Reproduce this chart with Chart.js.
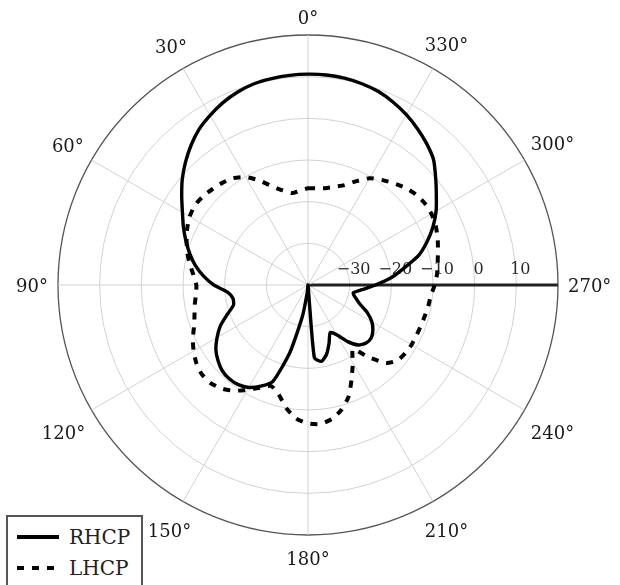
<!DOCTYPE html>
<html>
<head>
<meta charset="utf-8">
<script src="https://cdn.jsdelivr.net/npm/chart.js@4/dist/chart.umd.min.js"></script>
<style>
html,body{margin:0;padding:0;background:#fff;}
#wrap{position:relative;width:620px;height:585px;overflow:hidden;}
#legend{position:absolute;left:6px;top:515px;width:133px;height:90px;border:2px solid #555;background:#fff;
  font-family:"DejaVu Serif";font-size:20px;color:#222;}
.row{position:absolute;left:0;height:26px;display:flex;align-items:center;}
.sw{display:inline-block;width:42px;height:4px;margin:0 10px 0 9px;}
</style>
</head>
<body>
<div id="wrap">
  <canvas id="c"></canvas>
  <div id="legend">
    <div class="row" style="top:7px"><span class="sw" style="background:#000"></span>RHCP</div>
    <div class="row" style="top:38px"><span class="sw" style="background:repeating-linear-gradient(to right,#000 0 7px,transparent 7px 15px)"></span>LHCP</div>
  </div>
</div>
<script>
// ---------- data (angle in degrees, counter-clockwise from top; gain in dB) ----------
const ANGLES = [0,5,10,15,20,25,30,35,40,45,50,55,60,65,70,75,80,85,90,95,100,105,110,115,
  120,125,130,135,140,145,150,155,160,165,170,175,180,185,190,195,200,205,210,215,220,225,230,235,
  240,245,250,255,260,265,270,275,280,285,290,295,300,305,310,315,320,325,330,335,340,345,350,355];

const RHCP = [10.6,10.5,10.3,10.0,9.3,8.3,7.0,5.6,3.7,1.6,-0.6,-3.0,-5.2,-7.0,-8.8,-10.6,-12.5,-14.8,
  -17.4,-20.6,-21.7,-21.5,-19.4,-16.8,-14.8,-13.0,-11.8,-10.9,-10.6,-10.8,-11.6,-13.2,-15.4,-23.3,-32.5,-38.5,
  -40,-22.5,-21.4,-22.8,-25.2,-27.4,-26.2,-23.4,-21.2,-20.3,-20.2,-21.0,-22.3,-24.3,-26.8,-28.2,-29.0,-27.0,
  -23.8,-20.0,-16.6,-12.5,-9.6,-6.9,-4.5,-2.4,0.0,2.6,4.3,5.8,7.2,8.4,9.4,10.0,10.4,10.6];

const LHCP = [-16.8,-17.3,-17.6,-16.5,-14.8,-12.3,-10.1,-8.7,-8.0,-7.5,-7.0,-6.8,-7.2,-8.0,-9.0,-10.0,-11.2,-12.4,
  -13.2,-13.0,-12.4,-11.8,-10.9,-9.5,-8.3,-7.3,-6.7,-6.8,-7.6,-9.0,-11.0,-12.8,-14.2,-12.8,-10.0,-7.8,
  -6.8,-6.5,-7.3,-9.0,-11.5,-15.2,-18.5,-21.2,-17.4,-13.5,-11.9,-11.5,-11.3,-11.3,-11.2,-11.0,-10.7,-10.4,
  -9.6,-8.9,-8.4,-7.7,-6.9,-6.2,-5.8,-5.8,-6.2,-7.0,-8.1,-9.2,-10.4,-12.5,-14.5,-15.6,-16.4,-16.7];

const ANGLE_TICKS = [0,30,60,90,120,150,180,210,240,270,300,330];
const RING_VALUES = [-30,-20,-10,0,10];
const RING_LABELS = ["\u221230","\u221220","\u221210","0","10"];

// radar runs clockwise from the top, the plot runs counter-clockwise
const N = ANGLES.length;
const idx = i => (N - i) % N;
const labels = ANGLES.map((a,i) => ANGLES[idx(i)]);
const cw = arr => arr.map((v,i) => arr[idx(i)]);
const indexOfAngle = a => (N - a/5) % N;

// ---------- text drawn off the scale ----------
const axisText = {
  id: "axisText",
  beforeDatasetsDraw(chart){
    const s = chart.scales.r, ctx = chart.ctx;
    ctx.save();
    ctx.fillStyle = "#2a2a2a";
    ctx.textAlign = "center"; ctx.textBaseline = "middle";
    ctx.font = '16px "DejaVu Serif"';
    RING_VALUES.forEach((v,k) => {
      const d = s.getDistanceFromCenterForValue(v);
      ctx.fillText(RING_LABELS[k], s.xCenter + d + 4, s.yCenter - 15);
    });
    ctx.restore();
  },
  afterDraw(chart){
    const s = chart.scales.r, ctx = chart.ctx;
    ctx.save();
    ctx.fillStyle = "#1a1a1a";
    ctx.textAlign = "center"; ctx.textBaseline = "middle";
    ctx.font = '18px "DejaVu Serif"';
    ANGLE_TICKS.forEach(a => {
      const txt = a + "\u00b0";
      const w = ctx.measureText(txt).width, h = 14;
      const rad = a*Math.PI/180;
      const off = 10 + w/2*Math.abs(Math.sin(rad)) + h/2*Math.abs(Math.cos(rad));
      const p = s.getPointPosition(indexOfAngle(a), s.drawingArea + off);
      const dy = Math.cos(rad) < -0.1 ? 8 : (Math.abs(Math.cos(rad)) < 0.1 ? 2 : 1);
      ctx.fillText(txt, p.x, p.y + dy);
    });
    ctx.restore();
  }
};

new Chart(document.getElementById("c"), {
  type: "radar",
  data: {
    labels,
    datasets: [
      {label:"RHCP", data: cw(RHCP), borderColor:"#000", borderWidth:3.4, pointRadius:0,
       fill:false, tension:0.2, order:1},
      {label:"LHCP", data: cw(LHCP), borderColor:"#000", borderWidth:4, borderDash:[7,8],
       pointRadius:0, fill:false, tension:0.2, order:0}
    ]
  },
  options: {
    responsive: true, maintainAspectRatio: false, animation: false,
    layout: {padding: {left:58, right:61, top:35, bottom:49}},
    plugins: {legend:{display:false}, tooltip:{enabled:false}},
    scales: {
      r: {
        min: -40, max: 20,
        ticks: {display:false, stepSize:10},
        grid: {circular:true,
          color: c => c.tick && c.tick.value === 20 ? "#555" : "#d2d2d2",
          lineWidth: c => c.tick && c.tick.value === 20 ? 1.3 : 1},
        angleLines: {
          color: c => c.index === indexOfAngle(270) ? "#222" :
                      (ANGLE_TICKS.includes(labels[c.index]) ? "#d2d2d2" : "rgba(0,0,0,0)"),
          lineWidth: c => c.index === indexOfAngle(270) ? 3 : 1},
        pointLabels: {display:false}
      }
    }
  },
  plugins: [axisText]
});
</script>
</body>
</html>
